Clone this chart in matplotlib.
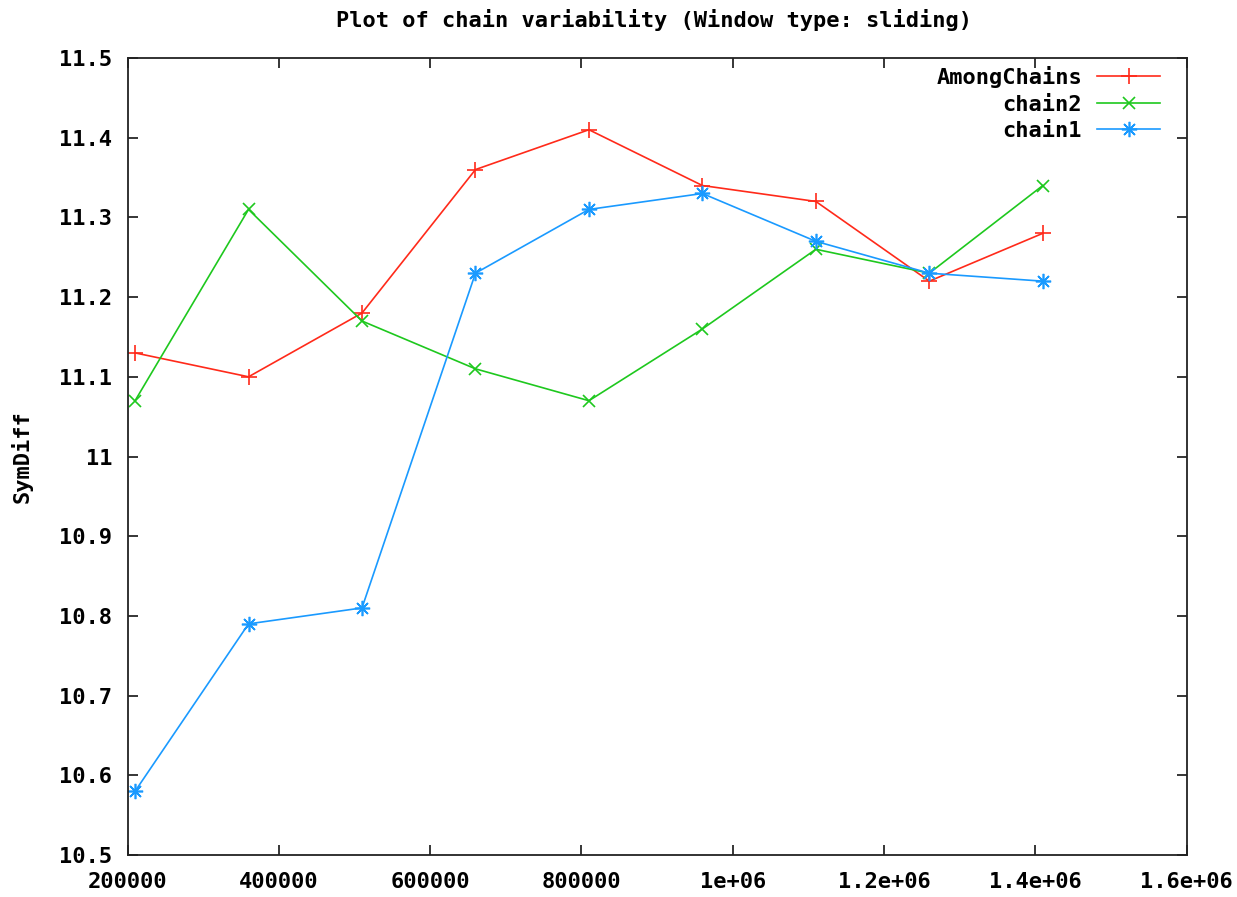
import matplotlib
matplotlib.use("Agg")
import matplotlib.pyplot as plt
from matplotlib.ticker import FixedLocator, FixedFormatter

# Sliding-window positions and SymDiff values per series
window_pos = [210000, 360000, 510000, 660000, 810000, 960000, 1110000, 1260000, 1410000]
among_chains = [11.13, 11.10, 11.18, 11.36, 11.41, 11.34, 11.32, 11.22, 11.28]
chain2 = [11.07, 11.31, 11.17, 11.11, 11.07, 11.16, 11.26, 11.23, 11.34]
chain1 = [10.58, 10.79, 10.81, 11.23, 11.31, 11.33, 11.27, 11.23, 11.22]

x_ticks = [200000, 400000, 600000, 800000, 1000000, 1200000, 1400000, 1600000]
x_tick_labels = ["200000", "400000", "600000", "800000", "1e+06", "1.2e+06", "1.4e+06", "1.6e+06"]
y_ticks = [10.5, 10.6, 10.7, 10.8, 10.9, 11.0, 11.1, 11.2, 11.3, 11.4, 11.5]
y_tick_labels = ["10.5", "10.6", "10.7", "10.8", "10.9", "11", "11.1", "11.2", "11.3", "11.4", "11.5"]

title = "Plot of chain variability (Window type: sliding)"
y_label = "SymDiff"

plt.rcParams["font.family"] = ["DejaVu Sans Mono"]
plt.rcParams["font.weight"] = "bold"
FS = 15.8

fig = plt.figure(figsize=(12.37, 8.97), dpi=100)
ax = fig.add_axes([127.5 / 1237, 42 / 897, 1059 / 1237, 797 / 897])

asterisk = (8, 2, 0)
ax.plot(window_pos, among_chains, color="#ff2a1a", lw=1.2, marker="+", ms=11, mew=1.2,
        label="AmongChains")
ax.plot(window_pos, chain2, color="#1ec81e", lw=1.2, marker="x", ms=9, mew=1.2,
        label="chain2")
ax.plot(window_pos, chain1, color="#1a9aff", lw=1.2, marker=asterisk, ms=11, mew=1.2,
        label="chain1")

ax.set_xlim(200000, 1600000)
ax.set_ylim(10.5, 11.5)
ax.xaxis.set_major_locator(FixedLocator(x_ticks))
ax.xaxis.set_major_formatter(FixedFormatter(x_tick_labels))
ax.yaxis.set_major_locator(FixedLocator(y_ticks))
ax.yaxis.set_major_formatter(FixedFormatter(y_tick_labels))

ax.tick_params(axis="both", which="major", direction="in", length=7, width=1.1,
               top=True, right=True, labelsize=FS, colors="black")
ax.tick_params(axis="x", pad=12)
ax.tick_params(axis="y", pad=11)
for lbl in ax.get_xticklabels() + ax.get_yticklabels():
    lbl.set_fontweight("bold")
for sp in ax.spines.values():
    sp.set_linewidth(1.3)
    sp.set_color("#222222")

fig.text(654 / 1237, 1 - 20 / 897, title, ha="center", va="center",
         fontsize=FS, fontweight="bold")
fig.text(22 / 1237, 1 - 457 / 897, y_label, ha="center", va="center",
         rotation=90, fontsize=FS, fontweight="bold")

ax.legend(loc="upper right", bbox_to_anchor=(1160 / 1237, 1 - 66 / 897),
          bbox_transform=fig.transFigure, frameon=False, markerfirst=False,
          handlelength=2.85, handletextpad=0.7, labelspacing=0.3,
          borderpad=0, borderaxespad=0, prop={"weight": "bold", "size": FS})

fig.savefig("out.png", dpi=100)
